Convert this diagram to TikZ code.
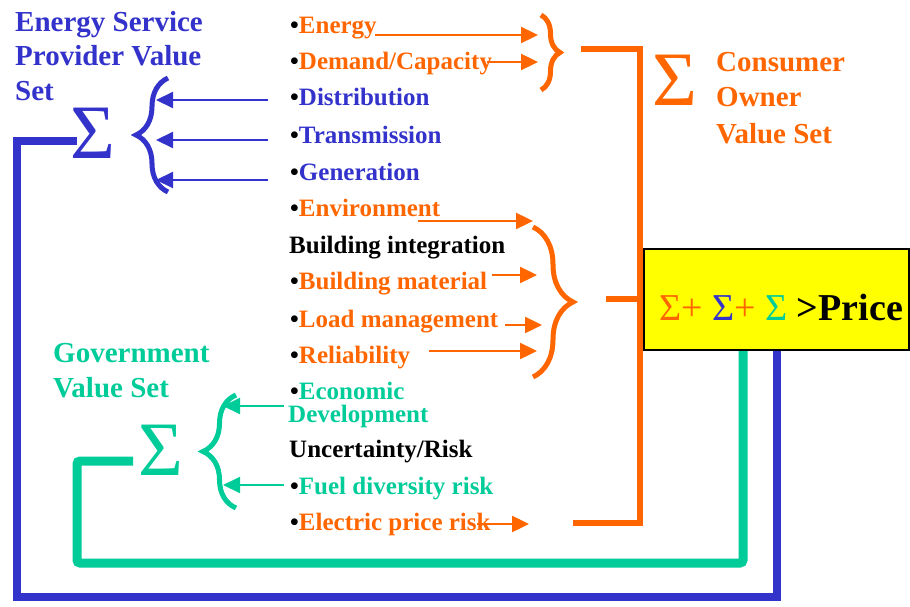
\documentclass[tikz,border=0pt]{standalone}
\usepackage{fontspec}
\setmainfont{Liberation Serif}
\usetikzlibrary{arrows.meta,decorations.pathreplacing}
\definecolor{cblue}{HTML}{3333CC}
\definecolor{corange}{HTML}{FF6600}
\definecolor{cgreen}{HTML}{00CC99}
\definecolor{cyellow}{HTML}{FFFF00}
\begin{document}
\begin{tikzpicture}[x=1pt,y=-1pt,
  title/.style={font=\fontsize{29}{34}\selectfont\bfseries, anchor=base west, inner sep=0},
  item/.style={font=\fontsize{25}{23}\selectfont\bfseries, anchor=base west, inner sep=0},
  bigsig/.style={font=\fontsize{77}{77}\selectfont, anchor=base, inner sep=0},
  tip/.style={-{Triangle[length=17pt,width=16pt]}},
  oarr/.style={tip, corange, line width=2.4pt},
  barr/.style={tip, cblue, line width=2pt},
  garr/.style={tip, cgreen, line width=2pt},
  bracestyle/.style={decorate, line width=5pt},
  bfb/.style={cblue, line width=8pt},
  gfb/.style={cgreen, line width=9pt, rounded corners=3pt},
  ofb/.style={corange, line width=6.5pt},
  pricebox/.style={draw=black, fill=cyellow, line width=1.5pt, minimum width=265pt, minimum height=101pt, inner sep=0}
]
\useasboundingbox (0,0) rectangle (910,607);

% titles
\node[title, cblue] (t1a) at (15,32) {Energy Service};
\node[title, cblue] (t1b) at (15,66) {Provider Value};
\node[title, cblue] (t1c) at (15,101) {Set};
\node[title, corange] (t2a) at (716,72) {Consumer};
\node[title, corange] (t2b) at (716,107) {Owner};
\node[title, corange] (t2c) at (716,143) {Value Set};
\node[title, cgreen] (t3a) at (53,362) {Government};
\node[title, cgreen] (t3b) at (53,397) {Value Set};

% big sigmas
\node[bigsig, cblue] (bsig) at (93,158) {Σ};
\node[bigsig, corange] (osig) at (674.5,106) {Σ};
\node[bigsig, cgreen] (gsig) at (161,475) {Σ};

% list items
\node[item, corange] (i1) at (290,34) {\textcolor{black}{•}Energy};
\node[item, corange] (i2) at (290,70) {\textcolor{black}{•}Demand/Capacity};
\node[item, cblue] (i3) at (290,106) {\textcolor{black}{•}Distribution};
\node[item, cblue] (i4) at (290,143) {\textcolor{black}{•}Transmission};
\node[item, cblue] (i5) at (290,180) {\textcolor{black}{•}Generation};
\node[item, corange] (i6) at (290,216) {\textcolor{black}{•}Environment};
\node[item, black] (h1) at (289,253) {Building integration};
\node[item, corange] (i7) at (290,289) {\textcolor{black}{•}Building material};
\node[item, corange] (i8) at (290,327) {\textcolor{black}{•}Load management};
\node[item, corange] (i9) at (290,363) {\textcolor{black}{•}Reliability};
\node[item, cgreen] (i10) at (290,399) {\textcolor{black}{•}Economic};
\node[item, cgreen] (i10b) at (288,422) {Development};
\node[item, black] (h2) at (289,457) {Uncertainty/Risk};
\node[item, cgreen] (i11) at (290,494) {\textcolor{black}{•}Fuel diversity risk};
\node[item, corange] (i12) at (290,530) {\textcolor{black}{•}Electric price risk};

% braces
\draw[bracestyle, cblue, decoration={brace, amplitude=32pt}] (168,192) -- (168,78);
\draw[bracestyle, corange, decoration={brace, amplitude=19pt}] (541,15) -- (541,90);
\draw[bracestyle, corange, decoration={brace, amplitude=40pt}] (533,227) -- (533,377);
\draw[bracestyle, cgreen, decoration={brace, amplitude=33pt}] (236,508) -- (236,395);

% arrow end points
\coordinate (a1s) at (375,35);  \coordinate (a1e) at (538,35);
\coordinate (a2s) at (487,62);  \coordinate (a2e) at (538,62);
\coordinate (a3s) at (418,221); \coordinate (a3e) at (533,221);
\coordinate (a4s) at (492,275); \coordinate (a4e) at (537,275);
\coordinate (a5s) at (505,325); \coordinate (a5e) at (542,325);
\coordinate (a6s) at (429,351); \coordinate (a6e) at (537,351);
\coordinate (a7s) at (477,524); \coordinate (a7e) at (529,524);
\coordinate (b1s) at (268,100); \coordinate (b1e) at (156,100);
\coordinate (b2s) at (268,140); \coordinate (b2e) at (156,140);
\coordinate (b3s) at (268,180); \coordinate (b3e) at (156,180);
\coordinate (g1s) at (284,406); \coordinate (g1e) at (223,406);
\coordinate (g2s) at (284,485); \coordinate (g2e) at (223,485);

\draw[oarr] (a1s) -- (a1e);
\draw[oarr] (a2s) -- (a2e);
\draw[oarr] (a3s) -- (a3e);
\draw[oarr] (a4s) -- (a4e);
\draw[oarr] (a5s) -- (a5e);
\draw[oarr] (a6s) -- (a6e);
\draw[oarr] (a7s) -- (a7e);
\draw[barr] (b1s) -- (b1e);
\draw[barr] (b2s) -- (b2e);
\draw[barr] (b3s) -- (b3e);
\draw[garr] (g1s) -- (g1e);
\draw[garr] (g2s) -- (g2e);

% feedback lines
\coordinate (bstart) at (777,350);
\coordinate (bin) at (77,141);
\coordinate (gstart) at (743,350);
\coordinate (gin) at (133,461);
\draw[bfb] (bstart) |- (17,597) |- (bin);
\draw[gfb] (gstart) |- (77,563) |- (gin);

% orange collector
\coordinate (o1) at (581,49);
\coordinate (o2) at (606,299);
\coordinate (o3) at (573,523);
\draw[ofb] (o1) -| (640,523) -- (o3);
\draw[ofb] (o2) -- (640,299);

% price box
\node[pricebox] (price) at (776.5,299.5) {};
\node[anchor=base west, inner sep=0, font=\fontsize{38}{38}\selectfont] (ptxt) at (659,320)
  {\textcolor{corange}{Σ+} \textcolor{cblue}{Σ}\textcolor{corange}{+} \textcolor{cgreen}{Σ} \textbf{>Price}};
\end{tikzpicture}
\end{document}
